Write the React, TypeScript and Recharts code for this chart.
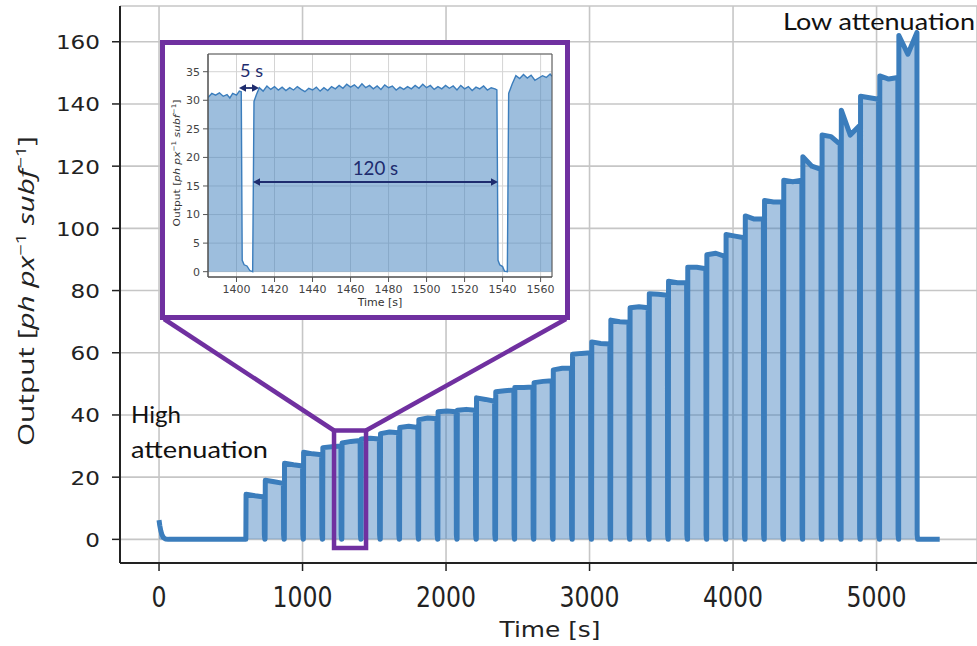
import React from 'react';
import { AreaChart, Area, XAxis, YAxis, CartesianGrid, ReferenceArea } from 'recharts';

// ---------- main chart data ----------
const xTicks = [0, 1000, 2000, 3000, 4000, 5000];
const yTicks = [0, 20, 40, 60, 80, 100, 120, 140, 160];

const startupTimes = [0, 5, 12, 20, 30, 45, 65];
const startupValues = [6.2, 4.5, 2.8, 1.5, 0.6, 0.1, 0];

const pulseStart = [605, 739, 873, 1006, 1140, 1274, 1408, 1542, 1676, 1809, 1943, 2077, 2211, 2345, 2478, 2612, 2746, 2880, 3014, 3147, 3281, 3415, 3549, 3683, 3816, 3950, 4084, 4218, 4352, 4485, 4619, 4753, 4887, 5021, 5154];
const pulseEnd = [733, 867, 1001, 1134, 1268, 1402, 1536, 1670, 1804, 1937, 2071, 2205, 2339, 2473, 2606, 2740, 2874, 3008, 3142, 3275, 3409, 3543, 3677, 3811, 3944, 4078, 4212, 4346, 4480, 4613, 4747, 4881, 5015, 5149, 5282];
const levelStart = [14.5, 19, 24.5, 28, 29.5, 31, 32.3, 34, 36, 38.5, 41, 41.5, 45.5, 47.5, 48.8, 50.4, 54.5, 59.5, 63.5, 70.5, 74.5, 79, 83, 87.5, 91.5, 98, 104, 109, 115.5, 123, 130, 138, 142.5, 149, 162];
const levelMid = [14, 18.5, 24, 27.5, 29.8, 31.5, 32.5, 34.5, 36.4, 39, 41.3, 41.8, 45, 47.8, 48.8, 50.8, 55, 59.8, 63, 70, 74.8, 78.8, 82.5, 87.5, 92, 97.5, 103, 108.5, 115, 120, 129.5, 130, 142, 148, 156];
const levelEnd = [13.6, 18, 23.6, 27.2, 30, 31.8, 32.3, 34.3, 36, 38.8, 41, 41.5, 44.4, 48, 49, 51, 55, 60, 62.8, 69.8, 74.5, 78.5, 82.5, 87, 91, 97, 103, 108.5, 115.5, 119, 127, 133, 141.5, 148.5, 163];

const tailTimes = [5283, 5286, 5440];
const tailValues = [1.5, 0, 0];

// ---------- inset data ----------
const insetXTicks = [1400, 1420, 1440, 1460, 1480, 1500, 1520, 1540, 1560];
const insetYTicks = [0, 5, 10, 15, 20, 25, 30, 35];
const insetTimes = [1385, 1387, 1389, 1391, 1393, 1395, 1396.5, 1398, 1400, 1401.5, 1402.5, 1403, 1404, 1405.5, 1407, 1408.5, 1409.2, 1410.5, 1412, 1414, 1416, 1418, 1420, 1422, 1424, 1426, 1428, 1430, 1432, 1434, 1436, 1438, 1440, 1442, 1444, 1446, 1448, 1450, 1452, 1454, 1456, 1458, 1460, 1462, 1464, 1466, 1468, 1470, 1472, 1474, 1476, 1478, 1480, 1482, 1484, 1486, 1488, 1490, 1492, 1494, 1496, 1498, 1500, 1502, 1504, 1506, 1508, 1510, 1512, 1514, 1516, 1518, 1520, 1522, 1524, 1526, 1528, 1530, 1532, 1534, 1536, 1537, 1537.6, 1538.5, 1540, 1541, 1542.5, 1543.2, 1545, 1547, 1549, 1551, 1553, 1555, 1557, 1559, 1561, 1563, 1565, 1566];
const insetValues = [30.5, 31.2, 30.9, 31.3, 30.7, 31.0, 30.4, 31.2, 30.9, 31.6, 31.5, 2.0, 1.2, 1.0, 0.2, 0, 29.8, 31.0, 32.2, 31.6, 32.5, 31.9, 32.4, 31.8, 32.3, 31.7, 32.2, 31.8, 32.4, 31.9, 31.5, 32.1, 31.8, 32.3, 31.6, 32.2, 31.7, 32.4, 32.0, 32.6, 32.1, 32.8, 32.3, 32.7, 32.1, 32.9, 32.2, 32.6, 32.0, 32.5, 31.9, 32.7, 32.2, 32.5, 31.8, 32.3, 31.9, 32.4, 32.0, 32.6, 32.1, 32.8, 32.2, 32.6, 31.9, 32.4, 32.0, 32.6, 32.1, 32.5, 31.8, 32.6, 32.0, 32.4, 31.7, 32.3, 32.0, 32.5, 31.8, 32.2, 32.0, 31.8, 2.0, 1.2, 0.9, 0.1, 0, 31.2, 32.8, 34.3, 33.8, 34.5, 33.9, 34.4, 33.5, 33.9, 34.3, 34.0, 34.6, 34.2];

function buildMainData() {
  const d: { t: number; v: number }[] = [];
  startupTimes.forEach((t, i) => d.push({ t, v: startupValues[i] }));
  pulseStart.forEach((s, k) => {
    const e = pulseEnd[k];
    d.push({ t: s, v: 0 });
    d.push({ t: s + 1.5, v: levelStart[k] });
    d.push({ t: (s + e) / 2, v: levelMid[k] });
    d.push({ t: e - 0.5, v: levelEnd[k] });
    if (k < pulseStart.length - 1) {
      d.push({ t: e + 1, v: 1.5 });
      d.push({ t: e + 4, v: 0 });
    }
  });
  tailTimes.forEach((t, i) => d.push({ t, v: tailValues[i] }));
  return d;
}
const mainData = buildMainData();
const insetData = insetTimes.map((t, i) => ({ t, v: insetValues[i] }));

const BLUE = '#3b7dbc';
const PURPLE = '#7030a0';
const NAVY = '#1e2c6e';

const MainXTick = (props: any) => {
  const { x, y, payload } = props;
  const s = String(payload.value);
  return (
    <text x={x} y={y + 34} textAnchor="middle" fontFamily="DejaVu Sans" fontSize={28} fill="#222"
      textLength={s.length * 15} lengthAdjust="spacingAndGlyphs">{s}</text>
  );
};
const MainYTick = (props: any) => {
  const { x, y, payload } = props;
  const s = String(payload.value);
  return (
    <text x={x} y={y + 7.5} textAnchor="end" fontFamily="DejaVu Sans" fontSize={20} fill="#222"
      textLength={s.length * 14.7} lengthAdjust="spacingAndGlyphs">{s}</text>
  );
};

const DoubleArrow = ({ x1, x2, y }: { x1: number; x2: number; y: number }) => {
  const h = 7, w = 3.8;
  return (
    <g>
      <line x1={x1 + 3} y1={y} x2={x2 - 3} y2={y} stroke={NAVY} strokeWidth={1.8} />
      <polygon points={`${x1},${y} ${x1 + h},${y - w} ${x1 + h},${y + w}`} fill={NAVY} />
      <polygon points={`${x2},${y} ${x2 - h},${y - w} ${x2 - h},${y + w}`} fill={NAVY} />
    </g>
  );
};

const YTitle = ({ x, y, fs, len, family, fill }: any) => (
  <text transform={`translate(${x},${y}) rotate(-90)`} textAnchor="middle" fontFamily={family} fontSize={fs}
    fill={fill} textLength={len} lengthAdjust="spacingAndGlyphs">
    Output [<tspan fontStyle="italic">ph px</tspan>
    <tspan fontSize={fs * 0.68} dy={-fs * 0.4}>−1</tspan>
    <tspan dy={fs * 0.4} fontStyle="italic"> subf</tspan>
    <tspan fontSize={fs * 0.68} dy={-fs * 0.4}>−1</tspan>
    <tspan dy={fs * 0.4}>]</tspan>
  </text>
);

export default function App() {
  return (
    <div style={{ position: 'fixed', left: 0, top: 0, width: 977, height: 646, background: '#fff', overflow: 'hidden' }}>
      <AreaChart width={977} height={646} data={mainData} margin={{ top: 6, right: 0, left: 0, bottom: 23 }}>
        <CartesianGrid stroke="#c6c6c6" strokeWidth={1.6} />
        <XAxis type="number" dataKey="t" domain={[-272, 5700]} ticks={xTicks} allowDataOverflow interval={0}
          height={60} tickSize={8} tick={(p: any) => <MainXTick {...p} />}
          axisLine={{ stroke: '#222', strokeWidth: 2 }} tickLine={{ stroke: '#222', strokeWidth: 1.5 }} />
        <XAxis xAxisId="top" orientation="top" type="number" domain={[-272, 5700]} allowDataOverflow height={0}
          tick={false} tickLine={false} axisLine={{ stroke: '#222', strokeWidth: 2 }} />
        <YAxis type="number" domain={[-7.6, 171.5]} ticks={yTicks} allowDataOverflow interval={0} width={120}
          tickSize={8} tickMargin={12} tick={(p: any) => <MainYTick {...p} />}
          axisLine={{ stroke: '#222', strokeWidth: 2 }} tickLine={{ stroke: '#222', strokeWidth: 1.5 }} />
        <Area type="linear" dataKey="v" stroke={BLUE} strokeWidth={5} fill={BLUE} fillOpacity={0.45}
          baseValue={0} isAnimationActive={false} dot={false} activeDot={false} strokeLinejoin="round" />
        <ReferenceArea x1={1219.5} x2={1442.5} y1={-2.8} y2={35} fill="none" fillOpacity={0}
          stroke={PURPLE} strokeWidth={4.5} />
      </AreaChart>

      <svg width={977} height={646} style={{ position: 'absolute', left: 0, top: 0, pointerEvents: 'none' }}>
        <line x1={164} y1={319} x2={334} y2={430.5} stroke={PURPLE} strokeWidth={4.5} />
        <line x1={566} y1={319} x2={366} y2={430.5} stroke={PURPLE} strokeWidth={4.5} />
        <YTitle x={34} y={291} fs={21} len={310} family="Open Sans" fill="#222" />
        <text x={550} y={637} textAnchor="middle" fontFamily="DejaVu Sans" fontSize={22} fill="#222"
          textLength={101} lengthAdjust="spacingAndGlyphs">Time [s]</text>
        <text x={131} y={423} fontFamily="Lato" fontSize={23} fill="#111" textLength={50} lengthAdjust="spacingAndGlyphs">High</text>
        <text x={131} y={457.5} fontFamily="Lato" fontSize={23} fill="#111" textLength={137} lengthAdjust="spacingAndGlyphs">attenuation</text>
        <text x={783} y={30} fontFamily="Lato" fontSize={23} fill="#111" textLength={192} lengthAdjust="spacingAndGlyphs">Low attenuation</text>
      </svg>

      <div style={{ position: 'absolute', left: 160, top: 40, width: 410, height: 280, boxSizing: 'border-box',
        border: `5px solid ${PURPLE}`, background: '#fff' }}>
        <AreaChart width={400} height={270} data={insetData} margin={{ top: 9, right: 13, left: 0, bottom: 18 }}>
          <CartesianGrid stroke="#d4d4d4" strokeWidth={1} />
          <XAxis type="number" dataKey="t" domain={[1385, 1566]} ticks={insetXTicks} allowDataOverflow interval={0}
            height={20} tickSize={5} tickMargin={3}
            tick={{ fontSize: 11, fill: '#444', fontFamily: 'DejaVu Sans' }}
            axisLine={{ stroke: '#555' }} tickLine={{ stroke: '#555' }} />
          <YAxis type="number" domain={[-0.93, 38.1]} ticks={insetYTicks} allowDataOverflow interval={0}
            width={43} tickSize={5} tickMargin={3}
            tick={{ fontSize: 11, fill: '#444', fontFamily: 'DejaVu Sans' }}
            axisLine={{ stroke: '#555' }} tickLine={{ stroke: '#555' }} />
          <Area type="linear" dataKey="v" stroke={BLUE} strokeWidth={1.4} fill={BLUE} fillOpacity={0.5}
            baseValue={0} isAnimationActive={false} dot={false} activeDot={false} />
          <ReferenceArea x1={1385} x2={1566} y1={-0.93} y2={38.1} fill="none" fillOpacity={0}
            stroke="#555" strokeWidth={1} />
        </AreaChart>
      </div>

      <svg width={977} height={646} style={{ position: 'absolute', left: 0, top: 0, pointerEvents: 'none' }}>
        <DoubleArrow x1={239} x2={259} y={88} />
        <DoubleArrow x1={253} x2={498} y={182} />
        <text x={240} y={77} fontFamily="Lato" fontSize={17} fill={NAVY} textLength={23} lengthAdjust="spacingAndGlyphs">5 s</text>
        <text x={352.7} y={175} fontFamily="Lato" fontSize={20} fill={NAVY} textLength={45.5} lengthAdjust="spacingAndGlyphs">120 s</text>
        <text x={380} y={306} textAnchor="middle" fontFamily="DejaVu Sans" fontSize={11} fill="#333">Time [s]</text>
        <YTitle x={179.5} y={163} fs={9.5} len={127} family="DejaVu Sans" fill="#333" />
      </svg>
    </div>
  );
}
